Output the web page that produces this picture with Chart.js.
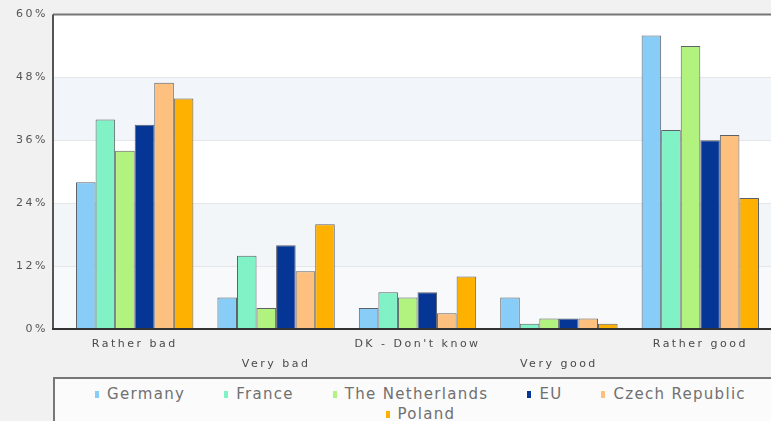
<!DOCTYPE html>
<html>
<head>
<meta charset="utf-8">
<script src="https://cdn.jsdelivr.net/npm/chart.js@4.4.1/dist/chart.umd.min.js"></script>
<style>
    html, body { margin: 0; padding: 0; width: 771px; height: 421px; overflow: hidden; background: #f1f1f1; }
    #wrap { position: relative; width: 771px; height: 421px; }
    #chart { position: absolute; left: 0; top: 0; }
    #legend {
        position: absolute; left: 53px; top: 377px; width: 734px; height: 60px;
        box-sizing: border-box; border: 1px solid #888; border-top: 2px solid #777; border-left: 2px solid #777;
        background: #fbfbfb;
        display: flex; flex-wrap: wrap; justify-content: center; align-content: flex-start;
        column-gap: 39px; padding-top: 5px;
        font: 15px "DejaVu Sans", sans-serif; letter-spacing: 1.3px; color: #707070;
    }
    #legend .item { display: flex; align-items: center; height: 20px; white-space: nowrap; }
    #legend .swatch { width: 4px; height: 7px; margin-right: 8px; }
</style>
</head>
<body>
<div id="wrap">
    <canvas id="chart" width="771" height="378"></canvas>
    <div id="legend"></div>
</div>
<script>
// answers per country, in %
const categories = ["Rather bad", "Very bad", "DK - Don't know", "Very good", "Rather good"];
const germany     = [28, 6, 4, 6, 56];
const france      = [40, 14, 7, 1, 38];
const netherlands = [34, 4, 6, 2, 54];
const eu          = [39, 16, 7, 2, 36];
const czech       = [47, 11, 3, 2, 37];
const poland      = [44, 20, 10, 1, 25];
const yTicks = [0, 12, 24, 36, 48, 60];

const series = [
    { label: "Germany", data: germany, color: "#87cdf8" },
    { label: "France", data: france, color: "#80f2c6" },
    { label: "The Netherlands", data: netherlands, color: "#b2f27e" },
    { label: "EU", data: eu, color: "#053595" },
    { label: "Czech Republic", data: czech, color: "#fdc07f" },
    { label: "Poland", data: poland, color: "#ffb102" },
];

// every other label drops to a second row so they don't collide
const xLabels = categories.map((c, i) => (i % 2 ? ["", c] : c));

const AXIS_GAP = 11; // frame starts a bit left of the first category

const spacing = {
    id: "spacing",
    beforeUpdate(chart) { chart.ctx.letterSpacing = "2.5px"; },
    beforeDraw(chart) { chart.ctx.letterSpacing = "2.5px"; },
};

const plotFrame = {
    id: "plotFrame",
    beforeDatasetsDraw(chart) {
        const { ctx, chartArea, scales: { y } } = chart;
        const left = chartArea.left - AXIS_GAP;
        const right = chart.width;
        ctx.save();
        ctx.fillStyle = "#ffffff";
        ctx.fillRect(left, chartArea.top, right - left, chartArea.bottom - chartArea.top);
        // shaded bands
        [[36, 48, "#f2f5f9"], [12, 24, "#f3f6f9"], [0, 12, "#f7f9fb"]].forEach(([a, b, c]) => {
            const top = y.getPixelForValue(b);
            const bottom = y.getPixelForValue(a);
            ctx.fillStyle = c;
            ctx.fillRect(left, top, right - left, bottom - top);
        });
        ctx.strokeStyle = "#e4e7ea";
        ctx.lineWidth = 1;
        yTicks.slice(1, -1).forEach(v => {
            const py = Math.round(y.getPixelForValue(v)) + 0.5;
            ctx.beginPath();
            ctx.moveTo(left, py);
            ctx.lineTo(right, py);
            ctx.stroke();
        });
        ctx.restore();
    },
    afterDatasetsDraw(chart) {
        const { ctx, chartArea } = chart;
        const left = chartArea.left - AXIS_GAP;
        ctx.save();
        ctx.lineWidth = 2;
        ctx.strokeStyle = "#777";
        ctx.beginPath();
        ctx.moveTo(left, chartArea.top);
        ctx.lineTo(chart.width, chartArea.top);
        ctx.stroke();
        ctx.strokeStyle = "#555";
        ctx.beginPath();
        ctx.moveTo(left, chartArea.top);
        ctx.lineTo(left, chartArea.bottom);
        ctx.stroke();
        ctx.strokeStyle = "#333";
        ctx.beginPath();
        ctx.moveTo(left - 1, chartArea.bottom);
        ctx.lineTo(chart.width, chartArea.bottom);
        ctx.stroke();
        ctx.restore();
    },
};

const chart = new Chart(document.getElementById("chart"), {
    type: "bar",
    data: {
        labels: xLabels,
        datasets: series.map(s => ({
            label: s.label,
            data: s.data,
            backgroundColor: s.color,
            borderColor: "#5e6268",
            borderWidth: 1,
            categoryPercentage: 0.83,
            barPercentage: 1,
        })),
    },
    options: {
        responsive: false,
        animation: false,
        layout: { padding: { top: 9, left: 0, right: 0, bottom: 0 } },
        plugins: {
            legend: { display: false },
            tooltip: { enabled: false },
        },
        scales: {
            x: {
                grid: { display: false },
                border: { display: false },
                ticks: {
                    autoSkip: false,
                    maxRotation: 0,
                    padding: -2,
                    color: "#4a4a4a",
                    font: { family: "DejaVu Sans", size: 11, lineHeight: 1.75 },
                },
                afterFit(scale) { scale.height = 49; },
            },
            y: {
                min: 0,
                max: 60,
                grid: { display: false },
                border: { display: false },
                afterBuildTicks(scale) { scale.ticks = yTicks.map(v => ({ value: v })); },
                ticks: {
                    padding: 8,
                    color: "#555",
                    font: { family: "DejaVu Sans", size: 11 },
                    callback: v => v + "%",
                },
                afterFit(scale) { scale.width = 64; },
            },
        },
    },
    plugins: [spacing, plotFrame],
});

// legend below the plot
const legendEl = document.getElementById("legend");
chart.data.datasets.forEach(ds => {
    const item = document.createElement("span");
    item.className = "item";
    const sw = document.createElement("span");
    sw.className = "swatch";
    sw.style.background = ds.backgroundColor;
    item.appendChild(sw);
    item.appendChild(document.createTextNode(ds.label));
    legendEl.appendChild(item);
});
</script>
</body>
</html>
